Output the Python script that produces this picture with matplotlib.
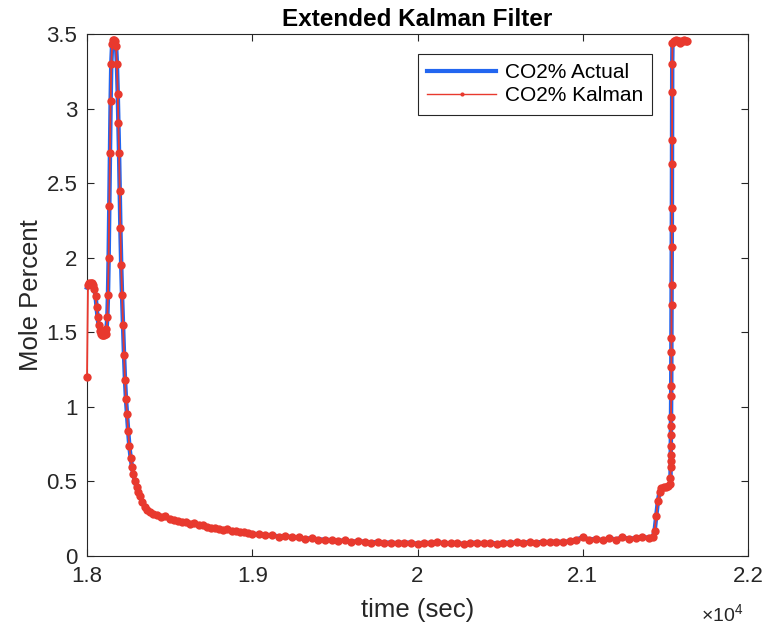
import numpy as np
import matplotlib.pyplot as plt
from matplotlib.lines import Line2D

plt.rcParams['font.family'] = ['Liberation Sans', 'DejaVu Sans']
plt.rcParams['mathtext.fontset'] = 'custom'
plt.rcParams['mathtext.rm'] = 'Liberation Sans'

# data (time in sec, CO2 in mole percent)
# first bump and spike
t_start = [18000, 18006, 18014, 18022, 18030, 18038, 18045, 18052, 18058, 18064,
           18070, 18077, 18084, 18091, 18098, 18105, 18112, 18118, 18123, 18127,
           18131, 18135, 18139, 18143, 18147, 18152, 18158, 18164, 18170, 18176,
           18181, 18186, 18190, 18194, 18198, 18202, 18207, 18212, 18218, 18224,
           18230, 18236, 18242, 18249, 18256]
v_start = [1.80, 1.82, 1.83, 1.83, 1.83, 1.82, 1.79, 1.74, 1.67, 1.60,
           1.55, 1.51, 1.49, 1.48, 1.48, 1.48, 1.49, 1.52, 1.60, 1.75,
           2.00, 2.35, 2.70, 3.05, 3.30, 3.43, 3.46, 3.46, 3.45, 3.42,
           3.30, 3.10, 2.90, 2.70, 2.45, 2.20, 1.95, 1.75, 1.55, 1.35,
           1.18, 1.05, 0.95, 0.84, 0.74]

# decay after the spike
t_decay = [18264, 18272, 18280, 18290, 18300, 18310, 18320, 18335, 18350, 18365,
           18380, 18400, 18425, 18450, 18475, 18500, 18525, 18550, 18575, 18600,
           18625, 18650, 18675, 18700, 18725, 18750, 18775, 18800, 18825, 18850,
           18875, 18900, 18925, 18950, 18975]
v_decay = [0.66, 0.60, 0.55, 0.50, 0.46, 0.43, 0.40, 0.36, 0.33, 0.31,
           0.295, 0.28, 0.275, 0.26, 0.265, 0.245, 0.24, 0.235, 0.225, 0.225,
           0.215, 0.22, 0.205, 0.205, 0.195, 0.19, 0.19, 0.18, 0.175, 0.18,
           0.165, 0.17, 0.16, 0.16, 0.155]

# long low stretch
t_flat = [19000, 19040, 19080, 19120, 19160, 19200, 19240, 19280, 19320, 19360,
          19400, 19440, 19480, 19520, 19560, 19600, 19640, 19680, 19720, 19760,
          19800, 19840, 19880, 19920, 19960, 20000, 20040, 20080, 20120, 20160,
          20200, 20240, 20280, 20320, 20360, 20400, 20440, 20480, 20520, 20560,
          20600, 20640, 20680, 20720, 20760, 20800, 20840, 20880, 20920, 20960,
          21000, 21040, 21080, 21120, 21160, 21200, 21240, 21280, 21320, 21360,
          21400]
v_flat = [0.15, 0.145, 0.14, 0.14, 0.13, 0.135, 0.125, 0.125, 0.115, 0.12,
          0.11, 0.11, 0.105, 0.10, 0.105, 0.095, 0.10, 0.095, 0.09, 0.095,
          0.088, 0.09, 0.085, 0.09, 0.088, 0.082, 0.09, 0.085, 0.092, 0.086,
          0.085, 0.088, 0.08, 0.087, 0.09, 0.084, 0.089, 0.083, 0.09, 0.087,
          0.092, 0.088, 0.094, 0.09, 0.095, 0.092, 0.097, 0.093, 0.10, 0.11,
          0.125, 0.11, 0.115, 0.105, 0.12, 0.11, 0.125, 0.115, 0.12, 0.13,
          0.12]

# step up at the end
t_ramp = [21425, 21435, 21445, 21455, 21465, 21475, 21490, 21505, 21518, 21528]
v_ramp = [0.13, 0.17, 0.27, 0.37, 0.43, 0.455, 0.46, 0.465, 0.47, 0.48]

t_jump = [21531, 21531.5, 21532, 21532.5, 21533, 21533.5, 21534, 21534.5, 21535, 21535.5,
          21536, 21536.5, 21537, 21537.5, 21538, 21538.5, 21539, 21539.5, 21540, 21540.5,
          21541, 21541.5]
v_jump = [0.52, 0.60, 0.64, 0.68, 0.74, 0.81, 0.87, 0.93, 1.07, 1.14,
          1.27, 1.37, 1.46, 1.68, 1.82, 2.07, 2.20, 2.33, 2.63, 2.79,
          3.11, 3.30]

t_top = [21543, 21550, 21558, 21566, 21574, 21582, 21590, 21598, 21606, 21614, 21622, 21630]
v_top = [3.44, 3.45, 3.45, 3.46, 3.45, 3.45, 3.44, 3.45, 3.45, 3.46, 3.45, 3.45]

kalman_start = 1.20  # filter's first estimate

x_ticks = [18000, 19000, 20000, 21000, 22000]
x_tick_labels = ['1.8', '1.9', '2', '2.1', '2.2']
y_ticks = [0, 0.5, 1, 1.5, 2, 2.5, 3, 3.5]
y_tick_labels = ['0', '0.5', '1', '1.5', '2', '2.5', '3', '3.5']

time = np.concatenate([t_start, t_decay, t_flat, t_ramp, t_jump, t_top])
co2_actual = np.concatenate([v_start, v_decay, v_flat, v_ramp, v_jump, v_top])
co2_kalman = co2_actual.copy()
co2_kalman[0] = kalman_start

blue = '#2266f0'
red = '#e8392e'
dark = '#262626'

fig = plt.figure(figsize=(7.68, 6.3), dpi=100)
ax = fig.add_axes([87 / 768, 74 / 630, 661 / 768, 522 / 630])

ax.plot(time, co2_actual, color=blue, lw=3.2, zorder=2, clip_on=False)
ax.plot(time, co2_kalman, color=red, lw=1.3, marker='o', ms=6, mew=0,
        zorder=3, clip_on=False)

ax.set_xlim(18000, 22000)
ax.set_ylim(0, 3.5)
ax.set_xticks(x_ticks)
ax.set_xticklabels(x_tick_labels)
ax.set_yticks(y_ticks)
ax.set_yticklabels(y_tick_labels)
ax.tick_params(direction='in', length=5, width=0.8, top=True, right=True,
               labelsize=16, colors=dark, pad=7)
for s in ax.spines.values():
    s.set_color(dark)
    s.set_linewidth(0.8)

ax.set_title('Extended Kalman Filter', fontsize=17.5, fontweight='bold', pad=6, color='black')
ax.set_xlabel('time (sec)', fontsize=18.5, color=dark, labelpad=8)
ax.set_ylabel('Mole Percent', fontsize=18.5, color=dark, labelpad=2)
fig.text(743 / 768, 1 - 622 / 630, r'$\times10^{4}$', ha='right', va='baseline',
         fontsize=14, color=dark)

handles = [Line2D([], [], color=blue, lw=3),
           Line2D([], [], color=red, lw=1, marker='o', ms=3, mew=0)]
leg = ax.legend(handles, ['CO2% Actual', 'CO2% Kalman'], loc='upper right',
                bbox_to_anchor=(0.855, 0.962), borderaxespad=0, fontsize=15,
                handlelength=3.3, fancybox=False, framealpha=1,
                borderpad=0.45, labelspacing=0.2, handletextpad=0.4)
leg.get_frame().set_edgecolor(dark)
leg.get_frame().set_linewidth(0.8)

fig.savefig('out.png', dpi=100)
